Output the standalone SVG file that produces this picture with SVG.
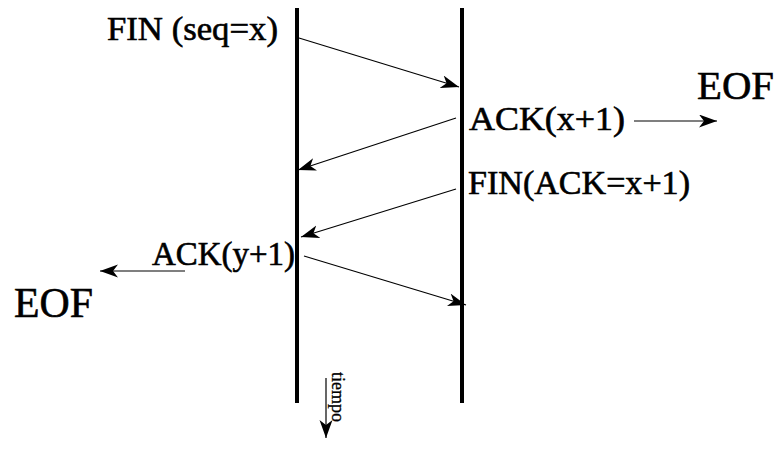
<svg xmlns="http://www.w3.org/2000/svg" width="777" height="459" viewBox="0 0 777 459">
<style>
.t{font-family:"Liberation Serif","Times New Roman",serif;fill:#000;stroke:#000;stroke-width:0.6}
.life{stroke:#000;stroke-width:4;fill:none}
.msg{stroke:#000;stroke-width:1.2;fill:none;marker-end:url(#ah)}
</style>
<defs>
<marker id="ah" markerUnits="userSpaceOnUse" markerWidth="20" markerHeight="14" refX="18" refY="6.5" orient="auto">
<path d="M0,0 L18,6.5 L0,13 L5,6.5 z" fill="#000"/>
</marker>
</defs>
<g id="lifeline-left"><line class="life" x1="297" y1="8" x2="297" y2="403"/></g>
<g id="lifeline-right"><line class="life" x1="462" y1="8" x2="462" y2="403"/></g>
<g id="connectors">
<line class="msg" x1="299" y1="38" x2="459" y2="87"/>
<line class="msg" x1="456" y1="118" x2="298" y2="170"/>
<line class="msg" x1="456" y1="189" x2="301" y2="237"/>
<line class="msg" x1="304" y1="256" x2="466" y2="305"/>
<line class="msg" x1="634" y1="121" x2="717" y2="121"/>
<line class="msg" x1="185" y1="271" x2="100" y2="271"/>
<line class="msg" x1="326" y1="378" x2="326" y2="438"/>
</g>
<g id="label-fin-seq"><text class="t" x="107" y="40" font-size="34" textLength="171" lengthAdjust="spacingAndGlyphs">FIN (seq=x)</text></g>
<g id="label-ack-x1"><text class="t" x="469" y="130" font-size="34" textLength="156" lengthAdjust="spacingAndGlyphs">ACK(x+1)</text></g>
<g id="label-fin-ack"><text class="t" x="468" y="194" font-size="34" textLength="222" lengthAdjust="spacingAndGlyphs">FIN(ACK=x+1)</text></g>
<g id="label-ack-y1"><text class="t" x="152" y="265" font-size="34" textLength="143" lengthAdjust="spacingAndGlyphs">ACK(y+1)</text></g>
<g id="eof-right"><text class="t" x="697" y="99" font-size="40" textLength="77" lengthAdjust="spacingAndGlyphs">EOF</text></g>
<g id="eof-left"><text class="t" x="14" y="317" font-size="42" textLength="79" lengthAdjust="spacingAndGlyphs">EOF</text></g>
<g id="label-tiempo"><text class="t" transform="translate(332,372) rotate(90)" font-size="18" style="stroke-width:0.3">tiempo</text></g>
</svg>
